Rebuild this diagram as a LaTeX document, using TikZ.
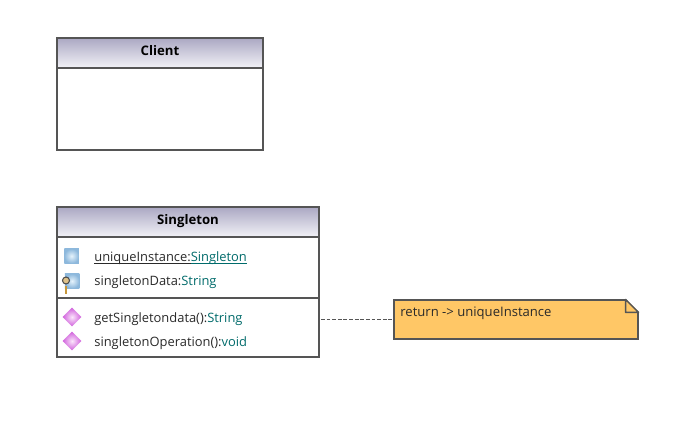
\documentclass[tikz,border=0pt]{standalone}
\usepackage{fontspec}
\setmainfont{Open Sans}
\usetikzlibrary{shapes.geometric}
\definecolor{borderc}{HTML}{555555}
\definecolor{headtop}{HTML}{ABA8C3}
\definecolor{headbot}{HTML}{F2F2F7}
\definecolor{typec}{HTML}{006B6B}
\definecolor{textc}{HTML}{2A2A2A}
\definecolor{notec}{HTML}{FFC766}
\definecolor{keyc}{HTML}{C8983A}
\definecolor{attrout}{HTML}{8DB8DC}
\definecolor{attrin}{HTML}{E6F3FC}
\definecolor{opout}{HTML}{D060DC}
\definecolor{opin}{HTML}{FBE6FB}
\tikzset{
    classhead/.style={draw=borderc, line width=0.65pt, top color=headtop, bottom color=headbot, inner sep=0pt, text height=0.22cm, text depth=0.10cm, font=\fontsize{7.5}{9}\selectfont\bfseries, text=black},
    classbody/.style={draw=borderc, line width=0.65pt, fill=white, inner sep=0pt},
    member/.style={anchor=base west, inner sep=0pt, font=\fontsize{7.35}{9}\selectfont, text=textc},
    attricon/.style={inner color=attrin, outer color=attrout, minimum size=0.29cm, inner sep=0pt},
    opicon/.style={diamond, inner color=opin, outer color=opout, minimum size=0.38cm, inner sep=0pt},
    keyring/.style={circle, draw=black!70, line width=0.6pt, fill=keyc!60!white, minimum size=0.14cm, inner sep=0pt},
    notebox/.style={draw=borderc, line width=0.65pt, fill=notec, inner sep=0pt}
}
\newcommand{\typed}[1]{\textcolor{typec}{#1}}
\newcommand{\ulined}[1]{\vtop{\hbox{\smash{#1}}\kern1.1pt\hrule height 0.4pt}}
\begin{document}
\begin{tikzpicture}
    \useasboundingbox (0,0) rectangle (13.54,8.44);
    \node[classbody, minimum width=4.12cm, minimum height=1.64cm] (clientbody) at (3.2,6.26) {};
    \node[classhead, minimum width=4.12cm, minimum height=0.6cm] (clienthead) at (3.2,7.38) {Client};
    \node[classbody, minimum width=5.24cm, minimum height=1.22cm] (attrbox) at (3.76,3.09) {};
    \node[classbody, minimum width=5.24cm, minimum height=1.18cm] (opbox) at (3.76,1.89) {};
    \node[classhead, minimum width=5.24cm, minimum height=0.6cm] (singlehead) at (3.76,4.00) {Singleton};
    \node[attricon] (uniqueicon) at (1.43,3.32) {};
    \node[attricon] (dataicon) at (1.44,2.82) {};
    \draw[black!65, line width=1.3pt] (1.32,2.72) -- (1.32,2.55);
    \draw[keyc, line width=0.7pt] (1.32,2.72) -- (1.32,2.55);
    \node[keyring] (keyhead) at (1.32,2.83) {};
    \node[opicon] (geticon) at (1.44,2.10) {};
    \node[opicon] (opericon) at (1.44,1.62) {};
    \node[member] (unique) at (1.88,3.21) {\ulined{uniqueInstance:}\textcolor{typec}{\ulined{Singleton}}};
    \node[member] (data) at (1.88,2.72) {singletonData:\typed{String}};
    \node[member] (getdata) at (1.88,1.99) {getSingletondata():\typed{String}};
    \node[member] (oper) at (1.88,1.51) {singletonOperation():\typed{void}};
    \node[notebox, minimum width=4.88cm, minimum height=0.78cm] (note) at (10.32,2.05) {};
    \fill[white] ([xshift=-0.27cm,yshift=0.03cm]note.north east) -- ([xshift=0.03cm,yshift=0.03cm]note.north east) -- ([xshift=0.03cm,yshift=-0.27cm]note.north east) -- cycle;
    \draw[borderc, line width=0.8pt, line join=round] ([xshift=-0.26cm]note.north east) -- ([yshift=-0.26cm]note.north east) -- ++(-0.26,0) -- cycle;
    \node[member, font=\fontsize{7.45}{9}\selectfont] (notetext) at (8.0,2.10) {return -> uniqueInstance};
    \coordinate (dashstart) at (6.42,2.06);
    \draw[borderc, dash pattern=on 2.2pt off 1pt, line width=0.5pt] (dashstart) -- (dashstart -| note.west);
\end{tikzpicture}
\end{document}
